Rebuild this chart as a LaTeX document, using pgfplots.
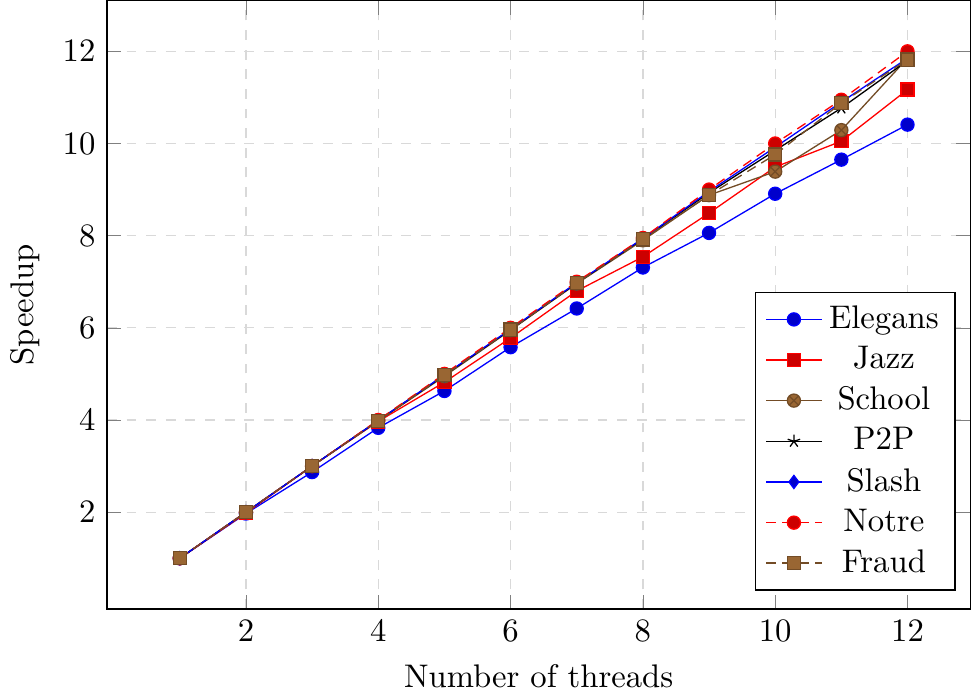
\documentclass[border=0pt]{standalone}
\usepackage{pgfplots}
\pgfplotsset{compat=1.18}

\begin{document}
\begin{tikzpicture}
\begin{axis}[
    scale only axis,
    width=264pt,
    height=186pt,
    xmin=-0.1, xmax=12.95,
    ymin=-0.1, ymax=13.1,
    xtick={2,4,...,12},
    ytick={2,4,...,12},
    grid=major,
    grid style={dashed, gray!30},
    xlabel={Number of threads},
    ylabel={Speedup},
    legend cell align=center,
    legend style={at={(0.983,0.03)}, anchor=south east},
]
% Elegans
\addplot coordinates {
    (1,1) (2,1.97) (3,2.87) (4,3.83) (5,4.63) (6,5.58)
    (7,6.42) (8,7.31) (9,8.06) (10,8.91) (11,9.65) (12,10.41)
};
% Jazz
\addplot coordinates {
    (1,1) (2,1.98) (3,3.0) (4,3.97) (5,4.82) (6,5.78)
    (7,6.8) (8,7.54) (9,8.49) (10,9.49) (11,10.05) (12,11.17)
};
% School
\addplot coordinates {
    (1,1) (2,2.0) (3,3.0) (4,3.98) (5,4.95) (6,5.95)
    (7,6.96) (8,7.9) (9,8.88) (10,9.39) (11,10.29) (12,11.85)
};
% P2P
\addplot coordinates {
    (1,1) (2,2.0) (3,3.0) (4,3.99) (5,4.97) (6,5.96)
    (7,6.97) (8,7.93) (9,8.93) (10,9.85) (11,10.77) (12,11.8)
};
% Slash
\addplot coordinates {
    (1,1) (2,2.0) (3,3.0) (4,3.99) (5,4.98) (6,5.97)
    (7,6.98) (8,7.94) (9,8.96) (10,9.92) (11,10.9) (12,11.85)
};
% Notre
\addplot coordinates {
    (1,1) (2,2.0) (3,3.0) (4,4.0) (5,5.0) (6,6.0)
    (7,7.0) (8,7.95) (9,9.0) (10,10.0) (11,10.95) (12,12.0)
};
% Fraud
\addplot coordinates {
    (1,1) (2,2.0) (3,3.0) (4,3.98) (5,4.97) (6,5.96)
    (7,6.97) (8,7.92) (9,8.88) (10,9.76) (11,10.88) (12,11.82)
};
\legend{Elegans, Jazz, School, P2P, Slash, Notre, Fraud}
\end{axis}
\end{tikzpicture}
\end{document}
